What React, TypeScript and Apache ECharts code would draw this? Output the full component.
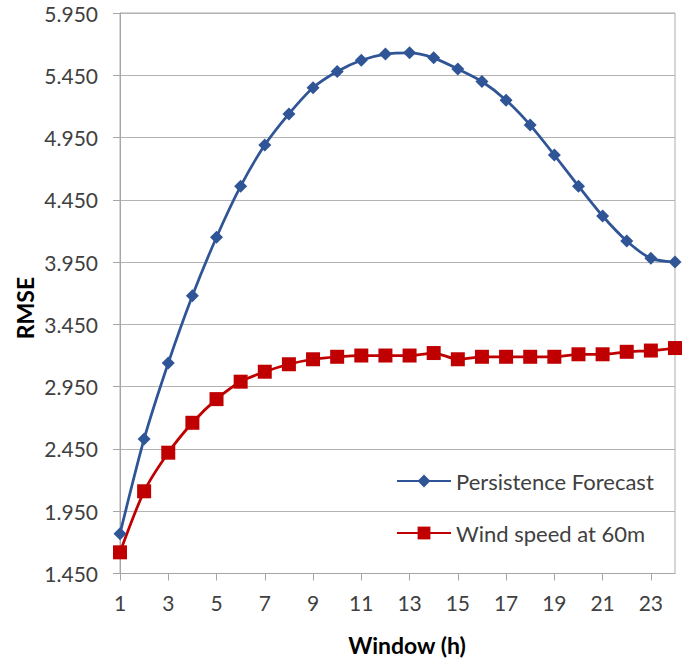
import React, { useEffect, useRef } from "react";
import * as echarts from "echarts";

const windows: string[] = [
  "1", "2", "3", "4", "5", "6", "7", "8", "9", "10", "11", "12",
  "13", "14", "15", "16", "17", "18", "19", "20", "21", "22", "23", "24",
];

const persistenceForecast: number[] = [
  1.77, 2.53, 3.14, 3.68, 4.15, 4.56, 4.89, 5.14, 5.35, 5.48, 5.57, 5.62,
  5.63, 5.59, 5.5, 5.4, 5.25, 5.05, 4.81, 4.56, 4.32, 4.12, 3.98, 3.95,
];

const windSpeed60m: number[] = [
  1.62, 2.11, 2.42, 2.66, 2.85, 2.99, 3.07, 3.13, 3.17, 3.19, 3.2, 3.2,
  3.2, 3.22, 3.17, 3.19, 3.19, 3.19, 3.19, 3.21, 3.21, 3.23, 3.24, 3.26,
];

const yTicks: number[] = [1.45, 1.95, 2.45, 2.95, 3.45, 3.95, 4.45, 4.95, 5.45, 5.95];

const FONT = "Lato";
const TEXT = "#404040";

export default function App() {
  const ref = useRef<HTMLDivElement>(null);

  useEffect(() => {
    if (!ref.current) return;
    const chart = echarts.init(ref.current, undefined, { renderer: "svg" });
    chart.setOption({
      animation: false,
      backgroundColor: "#ffffff",
      grid: {
        left: 120,
        top: 13,
        right: 24,
        bottom: 84.5,
        show: true,
        borderColor: "#ADADAD",
        borderWidth: 1,
        backgroundColor: "transparent",
      },
      legend: {
        orient: "vertical",
        left: 396,
        top: 470,
        padding: 0,
        itemWidth: 54,
        itemHeight: 16,
        itemGap: 30,
        textStyle: { fontFamily: FONT, fontSize: 22, color: TEXT, lineHeight: 22 },
        data: ["Persistence Forecast", "Wind speed at 60m"],
      },
      xAxis: {
        type: "category",
        data: windows,
        boundaryGap: false,
        axisLine: { lineStyle: { color: "#A6A6A6", width: 1 } },
        axisTick: { interval: 1, length: 7, lineStyle: { color: "#A6A6A6" } },
        axisLabel: { interval: 1, margin: 18, fontFamily: FONT, fontSize: 21, color: TEXT },
        splitLine: { show: false },
      },
      yAxis: {
        type: "value",
        min: 1.45,
        max: 5.95,
        axisLine: { show: true, lineStyle: { color: "#A6A6A6", width: 1 } },
        axisTick: { show: true, length: 7, customValues: yTicks, lineStyle: { color: "#A6A6A6" } },
        axisLabel: {
          customValues: yTicks,
          margin: 22,
          fontFamily: FONT,
          fontSize: 21,
          color: TEXT,
          formatter: (v: number) => v.toFixed(3),
        },
        splitLine: { show: true, lineStyle: { color: "#B3B3B3", width: 1 } },
      },
      graphic: [
        {
          type: "text",
          x: 25,
          y: 308,
          rotation: Math.PI / 2,
          style: {
            text: "RMSE",
            fontFamily: FONT,
            fontWeight: "bold",
            fontSize: 23,
            fill: "#000000",
            align: "center",
            verticalAlign: "middle",
          },
        },
        {
          type: "text",
          x: 407,
          y: 645,
          style: {
            text: "Window (h)",
            fontFamily: FONT,
            fontWeight: "bold",
            fontSize: 23,
            fill: "#000000",
            align: "center",
            verticalAlign: "middle",
          },
        },
      ],
      series: [
        {
          name: "Persistence Forecast",
          type: "line",
          data: persistenceForecast,
          smooth: 0.25,
          symbol: "diamond",
          symbolSize: 13,
          itemStyle: { color: "#2F5597" },
          lineStyle: { color: "#2F5597", width: 2.75 },
        },
        {
          name: "Wind speed at 60m",
          type: "line",
          data: windSpeed60m,
          smooth: 0.25,
          symbol: "rect",
          symbolSize: 14,
          itemStyle: { color: "#C00000" },
          lineStyle: { color: "#C00000", width: 2.75 },
        },
      ],
    });
    return () => chart.dispose();
  }, []);

  return (
    <div
      ref={ref}
      style={{ position: "fixed", left: 0, top: 0, width: 699, height: 658 }}
    />
  );
}
